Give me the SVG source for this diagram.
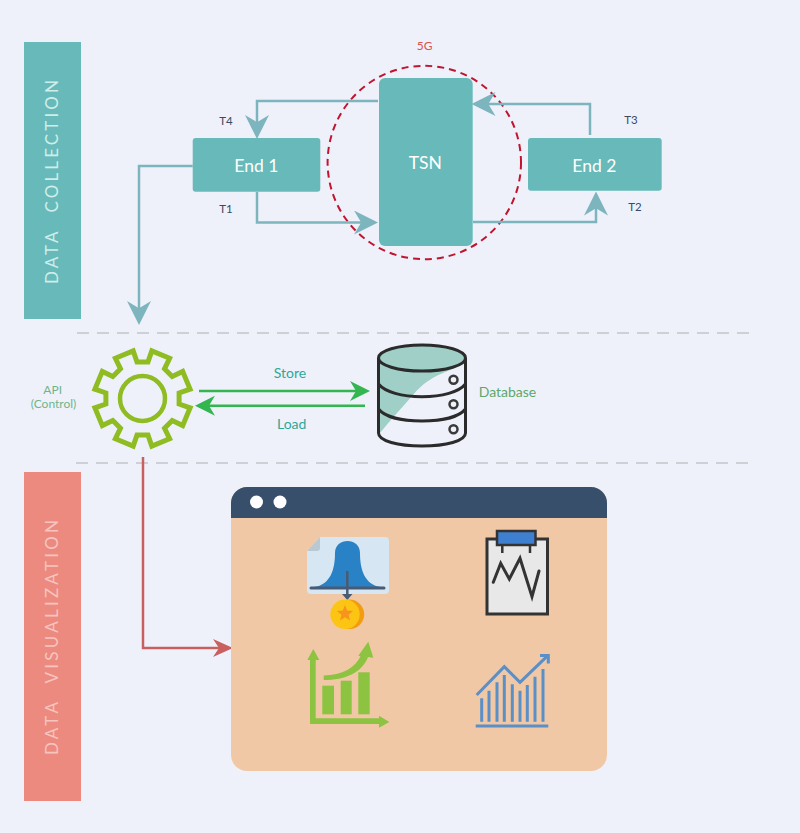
<svg xmlns="http://www.w3.org/2000/svg" width="800" height="833" viewBox="0 0 800 833">
<style>
text{font-family:"Lato","Liberation Sans",sans-serif}
.box{fill:#67bab9}
.nodeT{fill:#fff;font-size:17.5px;text-anchor:middle}
.tag{fill:#3d4a5c;font-size:11.5px;text-anchor:middle}
.side{font-size:17px;font-weight:400;text-anchor:start;word-spacing:9px}
.teal{fill:none;stroke:#7cb5bd;stroke-width:2.5}
.div{stroke:#cfd0d6;stroke-width:2;stroke-dasharray:12 8;fill:none}
.db{fill:none;stroke:#2b2b2b;stroke-width:3}
.hole{fill:#f0f2fb;stroke:#3a3a3a;stroke-width:2.5}
.green{fill:#8cc341}
.blue{fill:none;stroke:#5b8fc7;stroke-width:3}
</style>
<defs>
<marker id="aT" markerUnits="userSpaceOnUse" markerWidth="24" markerHeight="24" refX="15" refY="10" orient="auto" viewBox="0 0 20 20"><path d="M20,10 L0,0 L6,10 L0,20 Z" fill="#7cb5bd"/></marker>
<marker id="aR" markerUnits="userSpaceOnUse" markerWidth="20" markerHeight="20" refX="15" refY="10" orient="auto" viewBox="0 0 20 20"><path d="M20,10 L0,1 L6,10 L0,19 Z" fill="#c9605f"/></marker>
<marker id="aG" markerUnits="userSpaceOnUse" markerWidth="20" markerHeight="20" refX="15" refY="10" orient="auto" viewBox="0 0 20 20"><path d="M20,10 L0,0 L6,10 L0,20 Z" fill="#33b54f"/></marker>
</defs>
<rect width="800" height="833" fill="#eff1fa"/>

<g id="band-collection">
<rect x="24" y="42" width="57" height="277" fill="#67bab9"/>
<text class="side" transform="translate(57.5,284) rotate(-90)" fill="#cdeeea" textLength="204">DATA COLLECTION</text>
</g>
<g id="band-visualization">
<rect x="24" y="472" width="57" height="329" fill="#ec8a80"/>
<text class="side" transform="translate(57.5,755) rotate(-90)" fill="#f6c4bf" textLength="235">DATA VISUALIZATION</text>
</g>

<g id="dividers">
<path class="div" d="M77,333H750"/>
<path class="div" d="M76,463H750"/>
</g>

<g id="fiveg">
<circle cx="424.3" cy="162.5" r="96.7" fill="none" stroke="#c0142f" stroke-width="2" stroke-dasharray="7 5"/>
<text x="424.7" y="50" font-size="12" fill="#d9534f" text-anchor="middle">5G</text>
</g>

<g id="tsn">
<rect class="box" x="379" y="78" width="93.7" height="168" rx="6"/>
<text class="nodeT" x="425.3" y="168.5">TSN</text>
</g>
<g id="end1">
<rect class="box" x="192.7" y="138" width="127.6" height="53.7" rx="3"/>
<text class="nodeT" x="256.3" y="171.5">End 1</text>
</g>
<g id="end2">
<rect class="box" x="528" y="138" width="133.7" height="52.7" rx="3"/>
<text class="nodeT" x="594.3" y="171.5">End 2</text>
</g>

<g id="connectors">
<path class="teal" d="M378,101H257V133" marker-end="url(#aT)"/>
<path class="teal" d="M257,192V222.5H372" marker-end="url(#aT)"/>
<path class="teal" d="M590,135V104H477.5" marker-end="url(#aT)"/>
<path class="teal" d="M473,222H596V197.5" marker-end="url(#aT)"/>
<path class="teal" d="M192.7,166H139V319" marker-end="url(#aT)"/>
<path d="M143,457V648H228" fill="none" stroke="#c9605f" stroke-width="2.5" marker-end="url(#aR)"/>
<path d="M199,391H365" fill="none" stroke="#33b54f" stroke-width="2.5" marker-end="url(#aG)"/>
<path d="M365,405.7H200" fill="none" stroke="#33b54f" stroke-width="2.5" marker-end="url(#aG)"/>
</g>

<g id="edge-labels">
<text class="tag" x="226" y="125">T4</text>
<text class="tag" x="226" y="213">T1</text>
<text class="tag" x="631" y="124">T3</text>
<text class="tag" x="635" y="211">T2</text>
<text x="290" y="377.5" font-size="14" fill="#2aa89a" text-anchor="middle">Store</text>
<text x="291.7" y="429" font-size="14" fill="#2aa89a" text-anchor="middle">Load</text>
</g>

<g id="api">
<g transform="translate(142.5,398.5)" fill="none" stroke="#8fbc22" stroke-linejoin="miter">
<path stroke-width="5" d="M5.5,-36.6L9.3,-47.6L27.1,-40.2L22,-29.7L29.7,-22L40.2,-27.1L47.6,-9.3L36.6,-5.5L36.6,5.5L47.6,9.3L40.2,27.1L29.7,22L22,29.7L27.1,40.2L9.3,47.6L5.5,36.6L-5.5,36.6L-9.3,47.6L-27.1,40.2L-22,29.7L-29.7,22L-40.2,27.1L-47.6,9.3L-36.6,5.5L-36.6,-5.5L-47.6,-9.3L-40.2,-27.1L-29.7,-22L-22,-29.7L-27.1,-40.2L-9.3,-47.6L-5.5,-36.6Z"/>
<circle r="22.5" stroke-width="4.5"/>
</g>
<text x="52.7" y="394" font-size="12" fill="#6fb58a" text-anchor="middle">API</text>
<text x="53.5" y="408" font-size="12" fill="#6fb58a" text-anchor="middle">(Control)</text>
</g>

<g id="database">
<path fill="#a0cfc8" d="M378.5,358C378.5,350 398,345 422,345C446,345 466,350 466,358L450,370C432,377 422,384 413,395C402,408 390,420 380,433L378.5,435Z"/>
<ellipse class="db" cx="422" cy="358" rx="43.5" ry="13"/>
<path class="db" d="M378.5,358V433C378.5,441 398,446 422,446C446,446 465.5,441 465.5,433V358"/>
<path class="db" d="M378.5,384C385,392 402,396.7 422,396.7C442,396.7 459,392 465.5,384"/>
<path class="db" d="M378.5,409C385,417 402,421 422,421C442,421 459,417 465.5,409"/>
<circle class="hole" cx="453.5" cy="379.7" r="4"/>
<circle class="hole" cx="453.5" cy="404.3" r="4"/>
<circle class="hole" cx="453.5" cy="429.3" r="4"/>
<text x="478.7" y="397" font-size="14" fill="#5ba86a">Database</text>
</g>

<g id="dashboard">
<rect x="231" y="487" width="376" height="284" rx="16" fill="#f1c8a5"/>
<path d="M231,518V503A16,16 0 0 1 247,487H591A16,16 0 0 1 607,503V518Z" fill="#384f6b"/>
<circle cx="256.5" cy="502" r="6.5" fill="#fff"/>
<circle cx="280" cy="502" r="6.5" fill="#fff"/>
</g>

<g id="icon-bell">
<path d="M320,537H385A4,4 0 0 1 389,541V590A4,4 0 0 1 385,594H311A4,4 0 0 1 307,590V551Z" fill="#d6e6f2"/>
<path d="M320,537V548A3,3 0 0 1 317,551H307Z" fill="#b9c9d4"/>
<path d="M314,587C330,585 335,570 335,553C335,545 341,541 347.5,541C354,541 360,545 360,553C360,570 365,585 381,587Z" fill="#2a82c6"/>
<path d="M311,588H384" stroke="#4a5a72" stroke-width="3" stroke-linecap="round" fill="none"/>
<path d="M347.3,571V595" stroke="#4a5a72" stroke-width="2.5" fill="none"/>
<path d="M342,594H352.5L347.3,600Z" fill="#4a5a72"/>
<circle cx="349.5" cy="614.3" r="14.7" fill="#f39c12"/>
<circle cx="345" cy="614.3" r="14.7" fill="#fdc513"/>
<path d="M345,605L347.2,610.4L353.1,610.9L348.6,614.7L350,620.4L345,617.3L340,620.4L341.4,614.7L336.9,610.9L342.8,610.4Z" fill="#f7941d"/>
</g>

<g id="icon-clipboard">
<rect x="487" y="539" width="60.5" height="75" fill="#e8e8e8" stroke="#333" stroke-width="3"/>
<path d="M502.3,545V553M530,545V553" stroke="#333" stroke-width="2.5" fill="none"/>
<rect x="497" y="531" width="38.5" height="14" fill="#3f7fcf" stroke="#333" stroke-width="2.5"/>
<path d="M493.3,582.3L500.7,563.3L509.3,579L520,558.3L532,596.7L539,571" fill="none" stroke="#333" stroke-width="3" stroke-linecap="round"/>
</g>

<g id="icon-bars">
<path class="green" d="M313.3,649L319.3,660H315.7V718.3H379V715.7L389.3,722L379,727.7V724H310V660H307.3Z"/>
<rect class="green" x="322.3" y="685.7" width="11.7" height="28.6"/>
<rect class="green" x="340.7" y="680.7" width="11" height="33.6"/>
<rect class="green" x="358.3" y="672.3" width="11.4" height="42"/>
<path class="green" d="M323.7,675.5C342,675 356,668 361,655L368,657C362,673 345,680 323.7,680Z"/>
<path class="green" d="M368.3,641.7L358.3,655.7L373.3,657.7Z"/>
</g>

<g id="icon-line">
<path d="M481.7,721.7V698.3M489,721.7V690.7M497,721.7V682.3M504.3,721.7V675M512.3,721.7V684.3M520,721.7V690.7M527.3,721.7V685M535,721.7V676.7M543,721.7V669" class="blue"/>
<path class="blue" d="M475.7,726H548.3"/>
<path class="blue" d="M476.7,695L504.3,666.7L520,682.3L546.7,656.7"/>
<path class="blue" d="M540,655.5H548.3V663.5"/>
</g>
</svg>
